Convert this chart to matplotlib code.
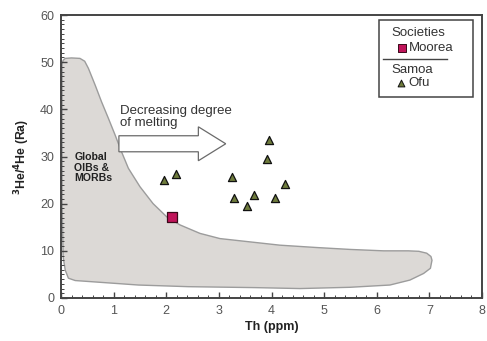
"""Th vs 3He/4He for Ofu (Samoa) and Moorea (Societies) against the global OIB/MORB field."""

import matplotlib.pyplot as plt
import matplotlib.patches as mpatches
from matplotlib.ticker import MultipleLocator

plt.rcParams.update({
    'font.family': ['Liberation Sans', 'DejaVu Sans'],
    'font.size': 8.5,
})

# Samoa - Ofu samples
ofu_th = [1.96, 2.18, 3.25, 3.29, 3.54, 3.66, 3.91, 3.96, 4.07, 4.25]
ofu_he = [25.0, 26.3, 25.6, 21.1, 19.5, 21.8, 29.5, 33.6, 21.3, 24.2]

# Societies - Moorea
moorea_th = [2.11]
moorea_he = [17.2]

# outline of the global OIB & MORB field (clockwise from upper left)
field_th = [0.02, 0.04, 0.08, 0.20, 0.36, 0.45, 0.52, 0.65, 0.77, 0.90,
            1.03, 1.15, 1.28, 1.50, 1.75, 2.01, 2.26, 2.64, 3.02, 3.59,
            4.16, 4.86, 5.49, 6.13, 6.60, 6.80, 6.95, 7.03, 7.05, 7.02,
            6.89, 6.63, 6.25, 5.49, 4.54, 3.69, 2.42, 1.47, 0.84, 0.27,
            0.14, 0.08, 0.04, 0.02]
field_he = [49.5, 50.4, 50.8, 50.9, 50.8, 50.2, 48.7, 45.1, 41.6, 38.1,
            34.5, 31.0, 27.5, 23.6, 20.0, 17.2, 15.5, 13.7, 12.6, 11.9,
            11.2, 10.7, 10.3, 10.0, 10.0, 9.9, 9.5, 8.8, 8.0, 6.3,
            5.2, 3.8, 2.75, 2.27, 2.0, 2.2, 2.4, 2.75, 3.25, 3.7,
            4.2, 5.9, 8.75, 20.0]

fig = plt.figure(figsize=(4.87, 3.41), dpi=100)
ax = fig.add_axes([0.1253, 0.1261, 0.8644, 0.8299])

ax.add_patch(mpatches.Polygon(list(zip(field_th, field_he)), closed=True,
                              facecolor='#dcd9d6', edgecolor='#9c9c9c',
                              lw=1.0, joinstyle='round', zorder=1))

ax.text(0.25, 31.0, 'Global\nOIBs &\nMORBs', fontsize=7.6, fontweight='bold',
        color='#222222', va='top', ha='left', linespacing=1.1, zorder=3)

# melting arrow
ax.add_patch(mpatches.FancyArrow(1.10, 32.7, 2.03, 0, width=3.4,
                                 head_width=7.2, head_length=0.52,
                                 length_includes_head=True,
                                 facecolor='white', edgecolor='#6a6a6a',
                                 lw=0.9, zorder=3))
ax.text(1.12, 38.4, 'Decreasing degree\nof melting', fontsize=9.5,
        color='#333333', va='center', ha='left', linespacing=1.0, zorder=3)

ax.scatter(ofu_th, ofu_he, marker='^', s=34, facecolor='#6e7b3c',
           edgecolor='#111111', lw=0.9, zorder=4)
ax.scatter(moorea_th, moorea_he, marker='s', s=48, facecolor='#c0145a',
           edgecolor='#3a0a1a', lw=0.9, zorder=4)

# legend box
ax.add_patch(mpatches.Rectangle((6.05, 42.6), 1.78, 16.3, facecolor='white',
                                edgecolor='#444444', lw=1.1, zorder=5))
ax.plot([6.12, 7.33], [50.6, 50.6], color='#444444', lw=1.0, zorder=6)
ax.text(6.27, 56.1, 'Societies', fontsize=9.5, color='#333333',
        va='center', ha='left', zorder=6)
ax.scatter([6.48], [53.0], marker='s', s=34, facecolor='#c0145a',
           edgecolor='#3a0a1a', lw=0.7, zorder=6)
ax.text(6.62, 53.0, 'Moorea', fontsize=9.5, color='#333333',
        va='center', ha='left', zorder=6)
ax.text(6.27, 48.3, 'Samoa', fontsize=9.5, color='#333333',
        va='center', ha='left', zorder=6)
ax.scatter([6.46], [45.5], marker='^', s=24, facecolor='#6e7b3c',
           edgecolor='#111111', lw=0.7, zorder=6)
ax.text(6.6, 45.5, 'Ofu', fontsize=9.5, color='#333333',
        va='center', ha='left', zorder=6)

ax.set_xlim(0, 8)
ax.set_ylim(0, 60)
ax.xaxis.set_major_locator(MultipleLocator(1))
ax.xaxis.set_minor_locator(MultipleLocator(0.2))
ax.yaxis.set_major_locator(MultipleLocator(10))
ax.yaxis.set_minor_locator(MultipleLocator(1))
ax.tick_params(which='both', direction='in', colors='#444444',
               labelcolor='#555555', labelsize=9)
ax.tick_params(which='major', length=4, width=1.0, pad=5)
ax.tick_params(which='minor', length=2, width=0.7)
for sp in ax.spines.values():
    sp.set_color('#444444')
    sp.set_linewidth(1.4)

ax.set_xlabel('Th (ppm)', fontsize=9, fontweight='bold', color='#222222',
              labelpad=3)
ax.set_ylabel(r'$^{\mathbf{3}}$He/$^{\mathbf{4}}$He (Ra)', fontsize=8.8,
              fontweight='bold', color='#222222', labelpad=6)

fig.savefig('out.png', dpi=100)
